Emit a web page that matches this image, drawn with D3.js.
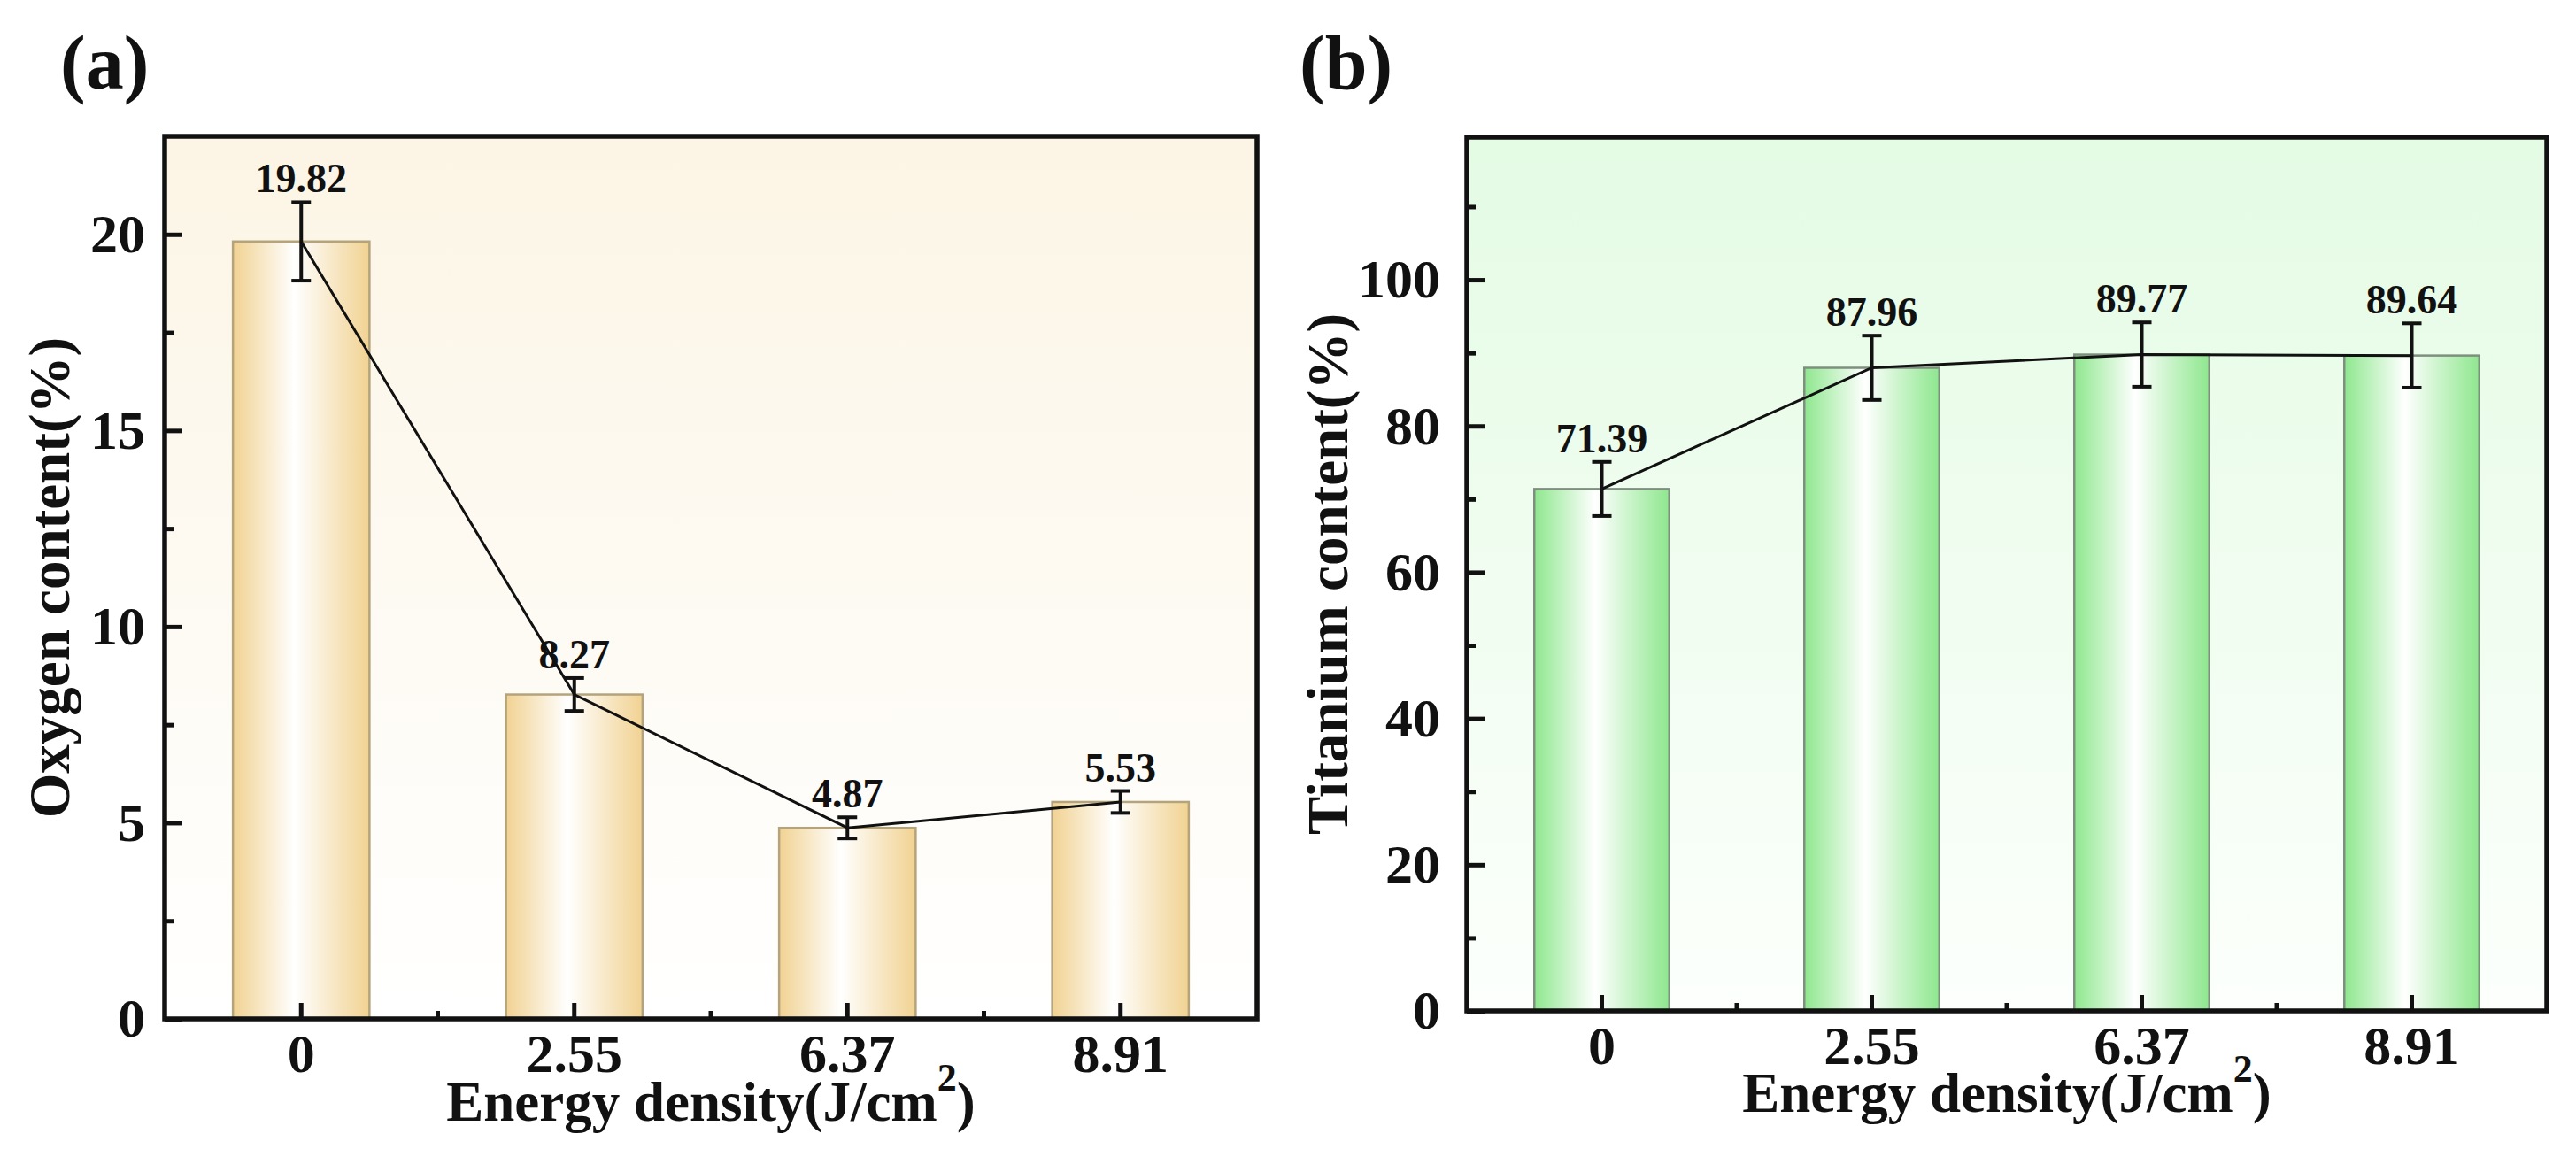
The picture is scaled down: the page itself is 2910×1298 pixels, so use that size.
<!DOCTYPE html>
<html>
<head>
<meta charset="utf-8">
<script src="https://cdn.jsdelivr.net/npm/d3@7"></script>
<style>
  body { margin: 0; background: #ffffff; }
  text { font-family: "Liberation Serif", "Times New Roman", serif; font-weight: bold; fill: #111; }
</style>
</head>
<body>
<div id="chart"></div>
<script>
// data
var energy = ["0", "2.55", "6.37", "8.91"];
var oxygen = [19.82, 8.27, 4.87, 5.53];
var oxygenErr = [1.0, 0.42, 0.27, 0.28];
var titanium = [71.39, 87.96, 89.77, 89.64];
var titaniumErr = [3.7, 4.4, 4.4, 4.4];
var oxygenTicks = [0, 5, 10, 15, 20];
var oxygenMinor = [2.5, 7.5, 12.5, 17.5];
var titaniumTicks = [0, 20, 40, 60, 80, 100];
var titaniumMinor = [10, 30, 50, 70, 90, 110];

var svg = d3.select("#chart")
  .append("svg")
  .attr("width", 2910)
  .attr("height", 1298);

var defs = svg.append("defs");

// horizontal gradient for the bars: colour at the edges, white near the middle
function barGradient(id, color) {
  var g = defs.append("linearGradient")
    .attr("id", id)
    .attr("x1", "0").attr("x2", "1").attr("y1", "0").attr("y2", "0");
  g.append("stop").attr("offset", "0%").attr("stop-color", color);
  g.append("stop").attr("offset", "45%").attr("stop-color", "#ffffff");
  g.append("stop").attr("offset", "100%").attr("stop-color", color);
}

// vertical gradient for the plot background
function bgGradient(id, top, bottom) {
  var g = defs.append("linearGradient")
    .attr("id", id)
    .attr("x1", "0").attr("x2", "0").attr("y1", "0").attr("y2", "1");
  g.append("stop").attr("offset", "0%").attr("stop-color", top);
  g.append("stop").attr("offset", "100%").attr("stop-color", bottom);
}

barGradient("barA", "#f1d292");
barGradient("barB", "#8ee78e");
bgGradient("bgA", "#fcf5e5", "#ffffff");
bgGradient("bgB", "#e4fbe4", "#fcfffc");

function drawPanel(p) {
  var g = svg.append("g");

  var x = d3.scaleBand()
    .domain(energy)
    .range([p.left, p.right])
    .paddingInner(0.5)
    .paddingOuter(0.25);

  var y = d3.scaleLinear()
    .domain(p.domain)
    .range([p.bottom, p.top]);

  // plot background
  g.append("rect")
    .attr("x", p.left).attr("y", p.top)
    .attr("width", p.right - p.left).attr("height", p.bottom - p.top)
    .attr("fill", "url(#" + p.bg + ")");

  // bars
  g.selectAll(".bar")
    .data(p.values)
    .enter().append("rect")
    .attr("x", function(d, i) { return x(energy[i]); })
    .attr("y", function(d) { return y(d); })
    .attr("width", x.bandwidth())
    .attr("height", function(d) { return y(0) - y(d); })
    .attr("fill", "url(#" + p.bar + ")")
    .attr("stroke", p.barStroke)
    .attr("stroke-width", 2.5);

  var cx = function(i) { return x(energy[i]) + x.bandwidth() / 2; };

  // connecting line
  var line = d3.line()
    .x(function(d, i) { return cx(i); })
    .y(function(d) { return y(d); });

  g.append("path")
    .datum(p.values)
    .attr("d", line)
    .attr("fill", "none")
    .attr("stroke", "#111")
    .attr("stroke-width", 3);

  // error bars
  p.values.forEach(function(v, i) {
    var e = p.errors[i];
    var eb = g.append("g").attr("stroke", "#111").attr("stroke-width", 4);
    eb.append("line")
      .attr("x1", cx(i)).attr("x2", cx(i))
      .attr("y1", y(v - e)).attr("y2", y(v + e));
    eb.append("line")
      .attr("x1", cx(i) - 11).attr("x2", cx(i) + 11)
      .attr("y1", y(v + e)).attr("y2", y(v + e));
    eb.append("line")
      .attr("x1", cx(i) - 11).attr("x2", cx(i) + 11)
      .attr("y1", y(v - e)).attr("y2", y(v - e));

    g.append("text")
      .attr("x", cx(i))
      .attr("y", y(v + e) - 11)
      .attr("text-anchor", "middle")
      .style("font-size", "46px")
      .text(v.toFixed(2));
  });

  // axes, ticks pointing into the plot
  g.append("g")
    .attr("transform", "translate(" + p.left + ",0)")
    .call(d3.axisLeft(y).tickValues(p.ticks).tickSize(-20).tickPadding(p.yPad).tickFormat(d3.format("d")));
  g.append("g")
    .attr("transform", "translate(" + p.left + ",0)")
    .call(d3.axisLeft(y).tickValues(p.minor).tickSize(-10).tickFormat(""));

  g.append("g")
    .attr("transform", "translate(0," + p.bottom + ")")
    .call(d3.axisBottom(x).tickSize(-18).tickPadding(16));

  // minor ticks between the categories
  var mid = [0.5, 1.5, 2.5].map(function(k) {
    return p.left + x.step() * (0.25 + k) + x.bandwidth() / 2;
  });
  g.selectAll(".minorx")
    .data(mid)
    .enter().append("line")
    .attr("x1", function(d) { return d; }).attr("x2", function(d) { return d; })
    .attr("y1", p.bottom).attr("y2", p.bottom - 9)
    .attr("stroke", "#111").attr("stroke-width", 5);

  g.selectAll(".domain").remove();
  g.selectAll(".tick line").attr("stroke", "#111").attr("stroke-width", 5);
  g.selectAll(".tick text")
    .style("font-size", "62px")
    .style("font-family", "'Liberation Serif', 'Times New Roman', serif")
    .style("font-weight", "bold")
    .attr("fill", "#111");

  // frame
  g.append("rect")
    .attr("x", p.left).attr("y", p.top)
    .attr("width", p.right - p.left).attr("height", p.bottom - p.top)
    .attr("fill", "none")
    .attr("stroke", "#111")
    .attr("stroke-width", 5.5);

  // axis titles
  g.append("text")
    .attr("transform", "translate(" + p.yTitleX + "," + ((p.top + p.bottom) / 2) + ") rotate(-90)")
    .attr("text-anchor", "middle")
    .style("font-size", "65px")
    .text(p.yTitle);

  var xt = g.append("text")
    .attr("x", (p.left + p.right) / 2)
    .attr("y", p.xTitleY)
    .attr("text-anchor", "middle")
    .style("font-size", "63px");
  xt.append("tspan").text("Energy density(J/cm");
  xt.append("tspan").attr("dy", -34).style("font-size", "44px").text("2");
  xt.append("tspan").attr("dy", 34).text(")");

  // panel letter
  g.append("text")
    .attr("x", p.labelX)
    .attr("y", 100)
    .style("font-size", "86px")
    .text(p.label);
}

drawPanel({
  left: 186, right: 1420, top: 154, bottom: 1151,
  domain: [0, 22.5],
  values: oxygen, errors: oxygenErr,
  ticks: oxygenTicks, minor: oxygenMinor,
  bar: "barA", bg: "bgA", barStroke: "#b5a37c",
  yPad: 22, yTitle: "Oxygen content(%)", yTitleX: 78,
  xTitleY: 1266, label: "(a)", labelX: 68
});

drawPanel({
  left: 1657, right: 2877, top: 155, bottom: 1142,
  domain: [0, 119.5],
  values: titanium, errors: titaniumErr,
  ticks: titaniumTicks, minor: titaniumMinor,
  bar: "barB", bg: "bgB", barStroke: "#7f8f7f",
  yPad: 30, yTitle: "Titanium content(%)", yTitleX: 1522,
  xTitleY: 1256, label: "(b)", labelX: 1468
});
</script>
</body>
</html>
